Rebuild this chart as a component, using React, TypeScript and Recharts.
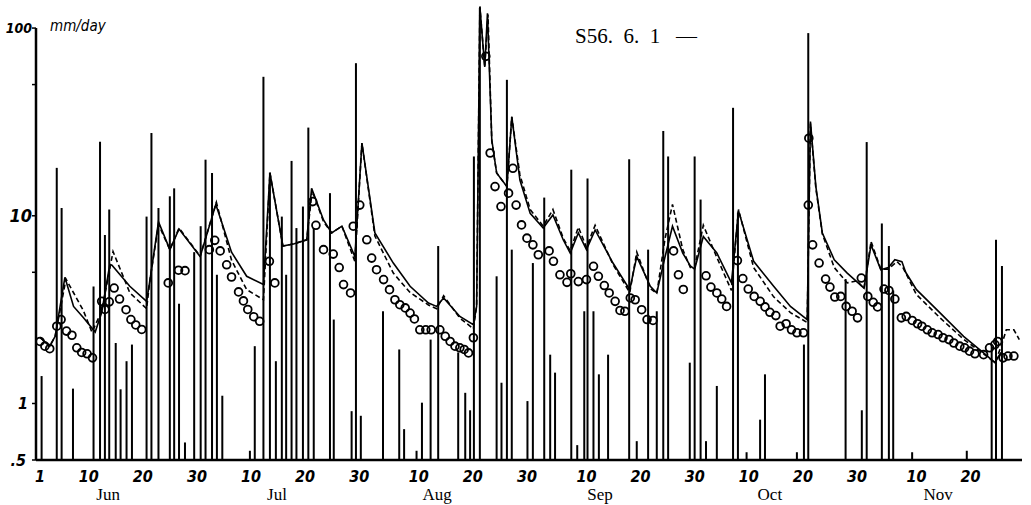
import React from 'react';
import { ComposedChart, Bar, Line, Scatter, XAxis, YAxis, ReferenceLine } from 'recharts';

// day 1 = 1 June, runs to the end of November
// [day, mm/day]
const rainfall: [number, number][] = [
    [1.3, 1.4], [4.1, 18], [5.0, 11], [7.1, 1.2], [10.9, 4.2], [12.1, 24.8], [13.0, 7.9], [13.8, 10.8],
    [15.0, 2.1], [15.9, 1.19], [17.0, 1.68], [18.0, 2.06], [20.7, 9.9], [21.6, 27.6], [22.9, 11],
    [25.0, 12.7], [25.8, 14], [26.7, 3.4], [27.8, 0.62], [29.5, 6.4], [30.7, 8.8], [31.6, 19.9],
    [32.8, 16.9], [33.7, 4.85], [34.7, 1.1], [39.8, 0.56], [40.7, 2.02], [42.3, 55], [43.5, 17],
    [44.6, 1.68], [45.7, 9.9], [46.5, 4.85], [47.5, 19.6], [48.4, 8.6], [49.6, 11.2], [50.6, 29.5],
    [51.6, 8.6], [54.6, 13.2], [55.3, 2.8], [58.6, 0.91], [59.4, 65], [60.3, 0.86], [64.4, 3.1],
    [67.4, 1.94], [68.3, 0.73], [70.6, 0.56], [71.6, 1.01], [73.2, 2.19], [74.6, 6.9], [78.3, 1.87],
    [79.6, 1.14], [80.5, 0.92], [81.2, 20.7], [82.3, 128], [85.4, 4.76], [86.3, 1.29], [87.3, 53],
    [88.2, 6.6], [91.1, 1.03], [92.1, 5.6], [94.2, 12.5], [95.3, 1.82], [96.2, 1.46], [99.2, 17.6],
    [100.3, 0.6], [101.6, 3.1], [102.2, 15.8], [103.3, 3.1], [104.3, 1.43], [106.0, 1.82], [109.9, 20],
    [111.3, 0.63], [113.4, 6.6], [115.0, 3.1], [116.2, 28.3], [117.1, 20.7], [121.1, 1.65], [122.0, 20.7],
    [123.1, 12.2], [124.1, 0.63], [126.1, 1.24], [129.1, 37.6], [130.0, 10.4], [131.6, 0.55], [134.1, 0.82],
    [135.0, 1.43], [140.9, 0.55], [142.2, 2.06], [143.0, 94], [149.9, 4.6], [152.9, 0.92], [153.8, 24.7],
    [156.6, 9.1], [157.9, 6.9], [158.7, 4.0], [162.2, 0.55], [172.3, 0.56], [176.9, 2.0], [177.7, 7.45],
    [178.8, 5.4],
];

// computed discharge, solid line
const calcSolid: [number, number][] = [
    [1, 2.25], [2.8, 2.02], [3.8, 2.28], [5.6, 4.7], [7.2, 3.29], [9.0, 2.87], [11.2, 2.4], [12.4, 3.05],
    [13.9, 5.5], [14.3, 5.45], [17.6, 4.21], [20.7, 3.5], [21.3, 4.5], [22.9, 9.3], [25.0, 6.6], [26.7, 8.5],
    [30.6, 6.06], [33.5, 11.5], [36.4, 6.4], [39.2, 4.76], [42.3, 4.3], [43.5, 16.9], [45.9, 6.9], [48.0, 7.1],
    [50.3, 7.45], [51.2, 14.0], [53.4, 9.5], [54.9, 8.1], [56.8, 8.8], [59.2, 6.06], [60.5, 24.4], [62.9, 8.1],
    [66.3, 5.6], [69.4, 4.21], [72.8, 3.43], [74.3, 3.29], [75.6, 3.65], [78.6, 2.91], [81.1, 2.63], [81.7, 3.3],
    [82.3, 130], [83.2, 62], [83.7, 120], [84.5, 25.4], [85.4, 16.9], [87.3, 14.3], [88.2, 33.7], [89.7, 15.5],
    [91.6, 10.3], [94.0, 8.6], [95.8, 10.1], [97.7, 7.45], [99.0, 6.33], [100.5, 8.1], [102.0, 6.6], [103.6, 8.4],
    [106.9, 5.6], [110.0, 4.04], [111.3, 6.06], [113.8, 4.21], [115.0, 3.88], [116.5, 6.0], [117.9, 8.8],
    [119.8, 6.33], [121.2, 5.4], [122.0, 5.2], [123.6, 7.75], [126.1, 6.33], [128.8, 4.39], [130.1, 10.6],
    [132.9, 5.72], [136.6, 4.21], [139.7, 3.29], [142.8, 2.8], [143.4, 31.8], [144.4, 14.3], [145.6, 8.1],
    [147.8, 5.83], [150.2, 4.95], [153.3, 4.12], [154.6, 7.0], [156.4, 5.16], [157.8, 5.3], [159.0, 5.83],
    [160.3, 5.7], [161.0, 5.0], [163.0, 4.04], [167.4, 3.03], [171.7, 2.28], [175.4, 1.86], [177.5, 1.65],
    [178.6, 1.87],
];

// computed discharge, dashed line
const calcDashed: [number, number][] = [
    [1, 2.25], [2.8, 2.02], [3.8, 2.28], [5.8, 4.6], [7.2, 3.89], [9.0, 3.13], [10.6, 2.4], [12.4, 3.1],
    [14.5, 6.45], [17.6, 3.89], [20.7, 3.2], [21.3, 4.5], [22.9, 9.0], [25.0, 6.6], [26.7, 8.6], [30.6, 6.1],
    [33.6, 11.8], [36.4, 5.8], [39.2, 4.04], [42.3, 3.57], [43.5, 16.9], [45.9, 6.9], [48.0, 7.1], [50.3, 7.45],
    [51.3, 13.6], [53.4, 9.3], [54.9, 8.1], [56.8, 8.8], [59.2, 5.7], [60.5, 24.4], [62.9, 7.8], [66.3, 4.95],
    [69.4, 3.9], [72.8, 3.35], [74.3, 3.2], [75.6, 3.75], [78.6, 2.85], [81.1, 2.5], [81.7, 3.3], [82.3, 130],
    [83.2, 62], [83.8, 118], [84.5, 25], [85.4, 16.9], [87.3, 14.3], [88.2, 33.7], [89.7, 16.5], [91.6, 10.8],
    [94.0, 8.8], [95.8, 10.8], [97.7, 7.6], [99.0, 6.5], [100.5, 8.7], [102.0, 6.8], [103.6, 8.9], [106.9, 5.5],
    [110.0, 3.9], [111.3, 6.4], [113.8, 4.1], [115.0, 3.85], [116.5, 7.5], [117.9, 11.5], [119.8, 6.6],
    [121.2, 5.3], [122.0, 5.3], [123.6, 8.9], [126.1, 6.0], [128.8, 4.0], [130.1, 10.8], [132.9, 5.3],
    [136.6, 3.7], [139.7, 3.05], [142.8, 2.7], [143.4, 31], [144.4, 14], [145.6, 8.0], [147.8, 5.3],
    [150.2, 4.39], [152.0, 4.5], [153.3, 4.1], [154.6, 7.3], [156.4, 5.2], [157.8, 5.2], [159.4, 5.7],
    [160.5, 5.3], [163.0, 3.8], [167.4, 2.85], [171.7, 2.2], [175.4, 1.84], [177.5, 1.65], [178.6, 2.0],
    [179.6, 2.47], [181.0, 2.47], [182.0, 2.19],
];

// observed discharge (circles)
const observed: [number, number][] = [
    [1.0, 2.14], [1.9, 2.02], [2.8, 1.96], [4.1, 2.58], [4.9, 2.8], [5.9, 2.43], [6.9, 2.31], [7.8, 1.98],
    [8.7, 1.87], [9.7, 1.84], [10.7, 1.75], [12.4, 3.5], [13.0, 3.17], [13.8, 3.48], [14.7, 4.12], [15.7, 3.6],
    [16.9, 3.16], [17.8, 2.8], [18.7, 2.62], [19.8, 2.48], [24.7, 4.39], [26.6, 5.13], [27.8, 5.1], [32.3, 6.6],
    [33.3, 7.4], [34.3, 6.5], [35.5, 5.48], [36.4, 4.72], [37.7, 3.93], [38.6, 3.52], [39.4, 3.17], [40.5, 2.9],
    [41.6, 2.74], [43.4, 5.72], [44.4, 4.39], [51.4, 11.9], [52.0, 8.9], [53.4, 6.6], [55.2, 6.25], [56.3, 5.3],
    [57.1, 4.3], [58.4, 3.88], [58.9, 8.8], [60.1, 11.4], [61.4, 7.45], [62.3, 5.95], [63.2, 5.16], [64.5, 4.57],
    [65.6, 4.04], [66.6, 3.57], [67.5, 3.36], [68.5, 3.23], [69.4, 3.03], [70.2, 2.82], [71.2, 2.47], [72.3, 2.47],
    [73.3, 2.47], [74.9, 2.47], [75.9, 2.28], [76.8, 2.14], [77.7, 2.02], [78.6, 1.98], [79.4, 1.94], [80.2, 1.86],
    [81.1, 2.24], [83.4, 70.7], [84.2, 21.6], [85.1, 14.3], [86.2, 11.2], [87.6, 13.2], [88.4, 17.9], [89.0, 11.4],
    [90.0, 8.94], [91.0, 7.6], [92.1, 7.0], [93.1, 6.2], [95.1, 6.5], [95.9, 5.72], [97.1, 4.85], [98.4, 4.42],
    [99.1, 4.91], [100.5, 4.46], [102.0, 4.57], [103.3, 5.38], [104.2, 4.76], [105.3, 4.25], [106.2, 3.88],
    [107.3, 3.5], [108.2, 3.13], [109.1, 3.1], [110.1, 3.65], [111.0, 3.57], [112.2, 3.16], [113.2, 2.8],
    [114.3, 2.77], [118.1, 6.5], [119.0, 4.85], [119.9, 4.05], [124.1, 4.79], [125.0, 4.17], [126.1, 3.88],
    [127.0, 3.6], [127.9, 3.29], [129.9, 5.77], [130.9, 4.63], [131.9, 4.07], [133.0, 3.72], [134.1, 3.5],
    [135.0, 3.27], [135.9, 3.06], [137.0, 2.94], [137.8, 2.58], [138.9, 2.66], [139.9, 2.47], [140.9, 2.38],
    [142.1, 2.38], [143.0, 11.4], [143.1, 25.9], [143.8, 7.0], [145.0, 5.6], [146.2, 4.6], [147.0, 4.17],
    [147.9, 3.69], [149.0, 3.72], [150.0, 3.29], [151.1, 3.1], [152.1, 2.86], [152.8, 4.66], [154.0, 3.72],
    [155.0, 3.46], [155.8, 3.27], [157.0, 4.07], [157.9, 4.0], [159.0, 3.6], [160.2, 2.86], [161.1, 2.91],
    [162.2, 2.77], [163.2, 2.66], [164.0, 2.58], [165.0, 2.47], [165.9, 2.38], [167.0, 2.33], [167.9, 2.24],
    [169.0, 2.19], [169.9, 2.1], [171.0, 2.02], [171.9, 1.98], [172.8, 1.9], [173.8, 1.84], [175.4, 1.82],
    [176.5, 1.98], [177.5, 2.06], [178.0, 2.14], [179.0, 1.75], [179.9, 1.79], [181.0, 1.79],
];

const dayTicks = [1, 10, 20, 30, 40, 50, 60, 71, 81, 91, 102, 112, 122, 132, 142, 152, 163, 173];
const dayLabels = ['1', '10', '20', '30', '10', '20', '30', '10', '20', '30', '10', '20', '30', '10', '20', '30', '10', '20'];
const monthTicks = [13.6, 44.8, 74.4, 104.5, 135.9, 167];
const monthNames = ['Jun', 'Jul', 'Aug', 'Sep', 'Oct', 'Nov'];
const yTicks = [0.5, 1, 5, 10, 50, 100];
const yLabels = ['.5', '1', '', '10', '', '100'];

const X_MIN = 0.26;
const X_MAX = 182.5;

const rainData = rainfall.map(([day, rain]) => ({ day, rain }));
const solidData = calcSolid.map(([day, q]) => ({ day, q }));
const dashedData = calcDashed.map(([day, q]) => ({ day, q }));
const obsData = observed.map(([day, q]) => ({ day, q }));

const hand = '"DejaVu Sans Condensed", "DejaVu Sans", sans-serif';

const XTick = (props: any) => {
    const { x, y, payload } = props;
    const m = monthTicks.indexOf(payload.value);
    if (m >= 0) {
        return (
            <text x={x} y={y + 38} textAnchor="middle" fontFamily='"Liberation Serif", serif' fontSize={17} fill="#000">
                {monthNames[m]}
            </text>
        );
    }
    const d = dayTicks.indexOf(payload.value);
    return (
        <text x={x} y={y + 20} textAnchor="middle" fontFamily={hand} fontStyle="italic" fontWeight="bold" fontSize={16} fill="#000">
            {dayLabels[d]}
        </text>
    );
};

const YTick = (props: any) => {
    const { x, y, payload } = props;
    const i = yTicks.indexOf(payload.value);
    const label = yLabels[i];
    if (!label) return null;
    const size = label === '100' ? 14 : label === '10' ? 18 : 16;
    const shift = label === '.5' ? -4 : label === '1' ? -2 : 2;
    return (
        <text x={x + shift} y={y} dy="0.35em" textAnchor="end" fontFamily={hand} fontStyle="italic" fontWeight="bold" fontSize={size} fill="#000">
            {label}
        </text>
    );
};

const Ring = (props: any) => (
    <circle cx={props.cx} cy={props.cy} r={3.9} fill="none" stroke="#000" strokeWidth={1.8} />
);

const RainStick = (props: any) => (
    <rect x={props.x + props.width / 2 - 1} y={props.y} width={2} height={Math.max(props.height, 0)} fill="#000" />
);

export default function App() {
    return (
        <div style={{ position: 'absolute', left: 0, top: 0, width: 1031, height: 505, background: '#fff' }}>
            <ComposedChart width={1031} height={505} data={rainData} margin={{ top: 3, right: 9, bottom: 0, left: 0 }}>
                <XAxis
                    type="number"
                    dataKey="day"
                    domain={[X_MIN, X_MAX]}
                    allowDataOverflow
                    ticks={[...dayTicks, ...monthTicks]}
                    interval={0}
                    tick={XTick}
                    tickLine={false}
                    tickSize={0}
                    axisLine={{ stroke: '#000', strokeWidth: 2.5 }}
                    height={45}
                />
                <YAxis
                    type="number"
                    scale="log"
                    domain={[0.5, 136]}
                    allowDataOverflow
                    ticks={yTicks}
                    interval={0}
                    tick={YTick}
                    tickSize={4}
                    tickMargin={2}
                    tickLine={{ stroke: '#000', strokeWidth: 1.5 }}
                    axisLine={false}
                    width={36}
                />
                <ReferenceLine segment={[{ x: X_MIN, y: 0.5 }, { x: X_MIN, y: 100 }]} stroke="#000" strokeWidth={2.5} />
                <Bar dataKey="rain" fill="#000" barSize={2} shape={RainStick} isAnimationActive={false} />
                <Line data={solidData} dataKey="q" type="linear" stroke="#000" strokeWidth={1.6} dot={false} isAnimationActive={false} />
                <Line data={dashedData} dataKey="q" type="linear" stroke="#000" strokeWidth={1.6} strokeDasharray="5 3" dot={false} isAnimationActive={false} />
                <Scatter data={obsData} dataKey="q" shape={Ring} isAnimationActive={false} />
            </ComposedChart>
            <div style={{ position: 'absolute', left: 50, top: 16, fontFamily: hand, fontStyle: 'italic', fontSize: 15, lineHeight: '20px' }}>
                mm/day
            </div>
            <div style={{ position: 'absolute', left: 575, top: 25, fontFamily: '"Liberation Serif", serif', fontSize: 21, lineHeight: '22px', whiteSpace: 'pre' }}>
                {'S56.  6.  1   —'}
            </div>
        </div>
    );
}
